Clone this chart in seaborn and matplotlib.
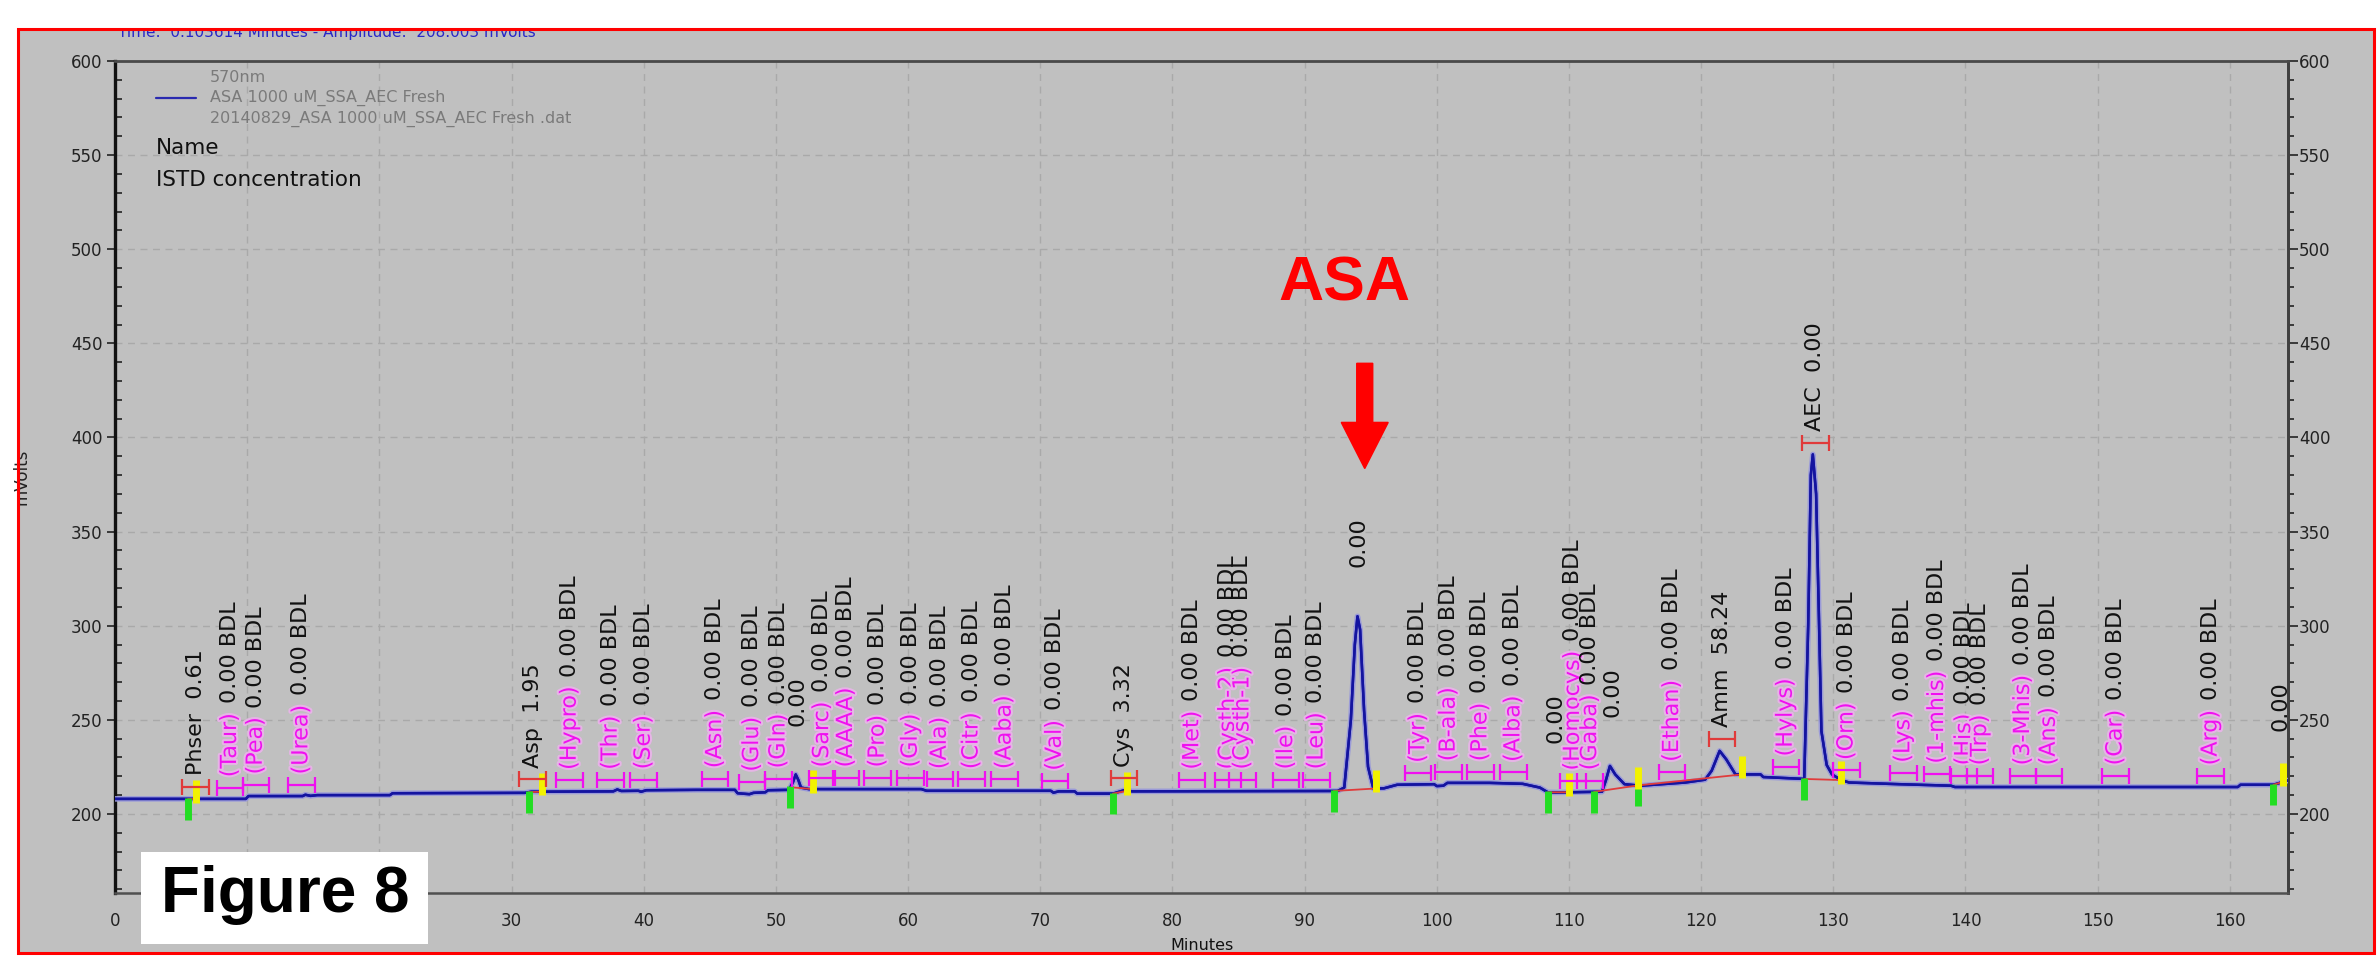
import numpy as np
import matplotlib
matplotlib.use("Agg")
import matplotlib.pyplot as plt
import matplotlib.patheffects as pe
from matplotlib.patches import Rectangle
from matplotlib.lines import Line2D
from matplotlib.ticker import MultipleLocator, FuncFormatter
import seaborn as sns

# chromatogram trace (minutes, mV)
trace_t = [0.0, 9.9, 10.1, 14.2, 14.4, 14.8, 15.3, 20.8, 21.0, 31.0, 31.5, 37.7,
           38.0, 38.3, 39.6, 39.8, 40.2, 44.0, 46.9, 47.1, 48.0, 48.3, 49.2, 49.4,
           51.0, 51.3, 51.5, 51.7, 51.9, 52.5, 61.0, 61.4, 70.8, 71.0, 71.4, 72.6,
           72.8, 75.5, 76.3, 77.0, 92.5, 93.0, 93.5, 93.8, 94.0, 94.2, 94.5, 94.8,
           95.2, 96.0, 97.0, 99.8, 100.0, 100.5, 100.8, 104.0, 106.5, 107.8, 108.4,
           109.0, 112.5, 112.8, 113.1, 113.5, 114.2, 115.4, 118.8, 120.3, 120.8,
           121.4, 121.9, 122.6, 124.5, 124.7, 127.8, 128.1, 128.3, 128.45, 128.7,
           128.9, 129.1, 129.5, 129.9, 130.6, 131.2, 135.0, 138.9, 139.2, 160.6,
           160.8, 163.3, 164.4]
trace_mv = [208.0, 208.0, 209.5, 209.5, 210.2, 209.6, 210.0, 210.0, 211.0, 211.2, 211.8, 212.0,
            213.0, 212.2, 212.3, 211.8, 212.6, 212.8, 212.8, 211.0, 210.5, 211.2, 211.5, 212.6,
            212.8, 217.0, 221.0, 218.0, 214.0, 213.2, 213.2, 212.3, 212.3, 211.3, 212.0, 212.0,
            210.8, 210.8, 212.5, 212.0, 212.2, 214.0, 250.0, 290.0, 305.0, 298.0, 255.0, 225.0,
            213.5, 213.6, 215.5, 215.8, 214.8, 215.0, 216.5, 216.5, 216.0, 214.0, 211.5,
            211.4, 211.8, 218.0, 225.5, 221.0, 215.8, 215.0, 216.7, 218.2, 223.0,
            233.5, 229.0, 221.0, 221.0, 219.6, 218.6, 300.0, 380.0, 391.0, 370.0,
            308.0, 244.0, 226.0, 221.0, 218.0, 216.7, 215.8, 215.0, 214.3, 214.3,
            215.5, 215.5, 217.8]

# identified compounds (black label, red window)
found_names = ["Phser", "Asp", "Cys", "Amm", "AEC"]
found_rt = [6.1, 31.6, 76.35, 121.6, 128.65]
found_amt = ["0.61", "1.95", "3.32", "58.24", "0.00"]

# expected compounds below detection limit (magenta label)
bdl_names = ["Taur", "Pea", "Urea", "Hypro", "Thr", "Ser", "Asn", "Glu", "Gln",
             "Sarc", "AAAA", "Pro", "Gly", "Ala", "Citr", "Aaba", "Val", "Met",
             "Cysth-2", "Cysth-1", "Ile", "Leu", "Tyr", "B-ala", "Phe", "Alba",
             "Homocys", "Gaba", "Ethan", "Hylys", "Orn", "Lys", "1-mhis", "His",
             "Trp", "3-Mhis", "Ans", "Car", "Arg"]
bdl_rt = [8.7, 10.65, 14.1, 34.4, 37.5, 40.0, 45.4, 48.2, 50.2,
          53.5, 55.3, 57.7, 60.2, 62.4, 64.8, 67.3, 71.1, 81.5,
          84.2, 85.3, 88.6, 90.9, 98.6, 100.9, 103.3, 105.8,
          110.3, 111.6, 117.8, 126.4, 131.0, 135.3, 137.85, 139.9,
          141.1, 144.35, 146.3, 151.35, 158.55]
bdl_amt = "0.00 BDL"

# unnamed integrated peaks
unk_rt = [51.6, 94.1, 109.0, 113.3, 163.8]
unk_amt = "0.00"

# integration start / end marks
peak_start = [5.5, 31.3, 51.1, 75.5, 92.2, 108.4, 111.9, 115.2, 127.8, 163.3]
peak_end = [6.1, 32.3, 52.8, 76.6, 95.4, 110.0, 115.2, 123.1, 130.6, 164.0]

# x tick labels hidden under the "Figure 8" tag
covered_ticks = [10, 20]

window = 1.0

W, H = 2377, 959
MAG = "#f010f0"

sns.set_style("white")
plt.rcParams["font.family"] = ["DejaVu Sans"]

fig = plt.figure(figsize=(W / 100, H / 100), dpi=100, facecolor="white")


def fx(x):
    return x / W


def fy(y):
    return 1 - y / H


fig.add_artist(Rectangle((fx(18), fy(953)), fx(2374 - 18), (953 - 29) / H,
                         transform=fig.transFigure, fc="#c0c0c0", ec="none", zorder=-1))

ax = fig.add_axes([fx(115), fy(893), fx(2288 - 115), (893 - 61) / H])
ax.set_facecolor("#c0c0c0")

sns.lineplot(x=trace_t, y=trace_mv, ax=ax, color="#1414a0", lw=1.8,
             estimator=None, sort=False, zorder=3)
ax.lines[-1].set_path_effects([pe.withStroke(linewidth=4, foreground="#9a9ad8"), pe.Normal()])


def base(t):
    return np.interp(t, trace_t, trace_mv)


def local_max(t, hw):
    g = np.linspace(t - hw, t + hw, 300)
    return np.interp(g, trace_t, trace_mv).max()


# integration baselines and start/end marks
for s, e in zip(peak_start, peak_end):
    ax.plot([s, e], [base(s), base(e)], color="#e03c3c", lw=1.3, zorder=3.5)
for s in peak_start:
    b = base(s)
    ax.vlines(s, b - 11, b + 0.5, color="#22dd22", lw=5, zorder=4)
for e in peak_end:
    b = base(e)
    ax.vlines(e, b - 2, b + 10, color="#f2f200", lw=5, zorder=4)

lab_kw = dict(rotation=90, ha="center", va="bottom", fontsize=16)
glow = [pe.withStroke(linewidth=3, foreground="#e6b4e6")]

# magenta windows + labels
bdl_y = [base(t) + 6 for t in bdl_rt]
ax.errorbar(bdl_rt, bdl_y, xerr=window, fmt="none", ecolor=MAG, elinewidth=1.6,
            capsize=6, capthick=1.6, zorder=4)
for name, t, yb in zip(bdl_names, bdl_rt, bdl_y):
    t1 = ax.text(t, yb + 5.5, f"({name})", color=MAG, path_effects=glow, zorder=5, **lab_kw)
    ax.annotate(bdl_amt, xy=(0.5, 1), xycoords=t1, xytext=(0, 7),
                textcoords="offset points", color="#111111", zorder=5, **lab_kw)

# red windows + black labels
found_y = [local_max(t, window) + 6.5 for t in found_rt]
ax.errorbar(found_rt, found_y, xerr=window, fmt="none", ecolor="#e03a3a", elinewidth=1.6,
            capsize=6, capthick=1.6, zorder=4)
for name, t, yb, amt in zip(found_names, found_rt, found_y, found_amt):
    ax.text(t, yb + 6, f"{name}  {amt}", color="#111111", zorder=5, **lab_kw)

for t in unk_rt:
    ax.text(t, local_max(t, 0.6) + 26, unk_amt, color="#111111", zorder=5, **lab_kw)

# ASA annotation
ax.text(93.0, 473, "ASA", fontsize=45, fontweight="bold", color="#ff0000",
        ha="center", va="baseline", family=["Liberation Sans", "DejaVu Sans"], zorder=6)
ax.arrow(94.55, 439.4, 0, -55.9, width=1.21, head_width=3.55, head_length=24.5,
         length_includes_head=True, color="#ff0000", zorder=6)

# axes styling
ax.set_xlim(0, 164.4)
ax.set_ylim(158, 600)
ax.xaxis.set_major_locator(MultipleLocator(10))
ax.xaxis.set_minor_locator(MultipleLocator(1))
ax.xaxis.set_major_formatter(FuncFormatter(
    lambda v, p: "" if round(v) in covered_ticks else f"{v:g}"))
ax.yaxis.set_major_locator(MultipleLocator(50))
ax.yaxis.set_minor_locator(MultipleLocator(10))
ax.grid(which="major", color="#a9a9a9", ls=(0, (5, 4)), lw=1)
ax.set_axisbelow(True)

ax.tick_params(axis="x", which="major", direction="out", length=8, width=1.2,
               pad=6, labelsize=12, colors="#222222")
ax.tick_params(axis="x", which="minor", direction="out", length=4, width=1, colors="#333333")
ax.tick_params(axis="y", which="major", direction="out", length=6, width=1.2,
               pad=3, labelsize=12, colors="#222222", left=True, right=False)
ax.tick_params(axis="y", which="minor", direction="in", length=5, width=1.2,
               colors="#222222", left=True, right=False)

for side, c, w in [("left", "#111111", 2.4), ("top", "#4a4a4a", 2.0),
                   ("right", "#404040", 2.0), ("bottom", "#505050", 1.8)]:
    ax.spines[side].set_color(c)
    ax.spines[side].set_linewidth(w)

sec = ax.secondary_yaxis("right")
sec.yaxis.set_major_locator(MultipleLocator(50))
sec.yaxis.set_minor_locator(MultipleLocator(10))
sec.tick_params(which="major", direction="out", length=7, width=1.2, pad=1,
                labelsize=12, colors="#222222")
sec.tick_params(which="minor", direction="out", length=4, width=1.2, colors="#222222")
sec.spines["right"].set_color("#404040")
sec.spines["right"].set_linewidth(2.0)

ax.set_xlabel("Minutes", fontsize=11.5, color="#111111")
ax.xaxis.set_label_coords(0.5, -(938 - 893) / (893 - 61))
ax.set_ylabel("mVolts", fontsize=12, color="#222222")
ax.yaxis.set_label_coords(-(115 - 31) / (2288 - 115), 0.5)

# header texts inside the plot
fig.text(fx(210), fy(77), "570nm", fontsize=11.5, color="#7a7a7a", va="center", zorder=2)
fig.text(fx(210), fy(98), "ASA 1000 uM_SSA_AEC Fresh", fontsize=11.5, color="#7a7a7a",
         va="center", zorder=2)
fig.text(fx(210), fy(119), "20140829_ASA 1000 uM_SSA_AEC Fresh .dat", fontsize=11.5,
         color="#7a7a7a", va="center", zorder=2)
fig.add_artist(Line2D([fx(156), fx(196)], [fy(98), fy(98)], transform=fig.transFigure,
                      color="#2a2ab0", lw=1.6, zorder=2))
fig.text(fx(156), fy(148), "Name", fontsize=15.5, color="#111111", va="center", zorder=2)
fig.text(fx(156), fy(180), "ISTD concentration", fontsize=15.5, color="#111111",
         va="center", zorder=2)

fig.text(fx(118), fy(37), "Time:  0.103614 Minutes - Amplitude:  208.003 mVolts",
         fontsize=11, color="#2828c8", va="baseline", zorder=3)
fig.text(fx(2371), fy(470), "mVolts", fontsize=12, color="#222222", rotation=270,
         ha="left", va="center", zorder=3)

# mask above border, border, figure tag
fig.add_artist(Rectangle((0, fy(28)), 1, 28 / H, transform=fig.transFigure,
                         fc="white", ec="none", zorder=4))
fig.add_artist(Rectangle((fx(18), fy(953)), fx(2374 - 18), (953 - 29) / H,
                         transform=fig.transFigure, fill=False, ec="#ff0000", lw=2.2, zorder=5))
fig.add_artist(Rectangle((fx(141), fy(944)), fx(287), 92 / H, transform=fig.transFigure,
                         fc="white", ec="none", zorder=6))
fig.text(fx(285), fy(895), "Figure 8", fontsize=46, fontweight="bold", color="black",
         ha="center", va="center", family=["Liberation Sans", "DejaVu Sans"], zorder=7)

fig.savefig("out.png", dpi=100, facecolor="white")
